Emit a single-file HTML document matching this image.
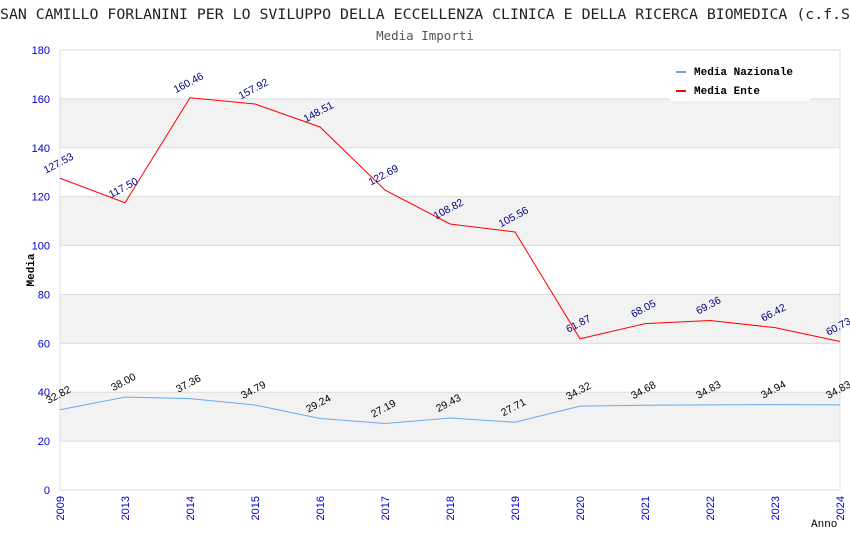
<!DOCTYPE html>
<html><head><meta charset="utf-8"><style>
body{margin:0;background:#fff;}
svg{display:block;}
</style></head><body>
<svg id="chart" width="850" height="550" xmlns="http://www.w3.org/2000/svg">
<text x="0" y="19" font-family="DejaVu Sans Mono, monospace" font-size="14.5" fill="#222" textLength="850" lengthAdjust="spacingAndGlyphs">SAN CAMILLO FORLANINI PER LO SVILUPPO DELLA ECCELLENZA CLINICA E DELLA RICERCA BIOMEDICA (c.f.S</text>
<text x="425" y="40" text-anchor="middle" font-family="DejaVu Sans Mono, monospace" font-size="12.5" fill="#555">Media Importi</text>
<g id="bands"></g>
<g id="grid"></g>
<g id="axes"></g>
<g id="series"></g>
<g id="labels"></g>
<text transform="translate(34,270) rotate(-90)" text-anchor="middle" font-family="Liberation Mono, monospace" font-size="11" font-weight="bold" fill="#000">Media</text>
<text x="811" y="527" font-family="Liberation Mono, monospace" font-size="11" fill="#000">Anno</text>
<g>
<rect x="670" y="58" width="140" height="43" fill="#fff"/>
<line x1="676" y1="72" x2="686" y2="72" stroke="#66aaee" stroke-width="2"/>
<text x="694" y="75" font-family="Liberation Mono, monospace" font-size="11" font-weight="bold" fill="#000">Media Nazionale</text>
<line x1="676" y1="91" x2="686" y2="91" stroke="#ff0000" stroke-width="2"/>
<text x="694" y="94" font-family="Liberation Mono, monospace" font-size="11" font-weight="bold" fill="#000">Media Ente</text>
</g>
</svg>
<script>
const years = ["2009","2013","2014","2015","2016","2017","2018","2019","2020","2021","2022","2023","2024"];
const ente = [127.53,117.50,160.46,157.92,148.51,122.69,108.82,105.56,61.87,68.05,69.36,66.42,60.73];
const nazionale = [32.82,38.00,37.36,34.79,29.24,27.19,29.43,27.71,34.32,34.68,34.83,34.94,34.83];
const yTicks = [0,20,40,60,80,100,120,140,160,180];
const yMax = 180;
const L=60,R=840,T=50,B=490;
const NS="http://www.w3.org/2000/svg";
const x=i=>L+i*(R-L)/(years.length-1);
const y=v=>B-v*(B-T)/yMax;
function mk(tag,attrs,parent,text){const e=document.createElementNS(NS,tag);for(const k in attrs)e.setAttribute(k,attrs[k]);if(text!==undefined)e.textContent=text;document.getElementById(parent).appendChild(e);return e;}
for(let k=0;k<yTicks.length-1;k++){
  if(k%2===1){const b=mk('rect',{x:L,y:y(yTicks[k+1]),width:R-L,height:y(yTicks[k])-y(yTicks[k+1]),fill:'#f2f2f2'},'bands');
  
  }
}
yTicks.forEach(t=>{
  const g=mk('line',{x1:L,x2:R,y1:y(t),y2:y(t),stroke:'#dddddd','stroke-width':1},'grid');
  
  
  const l=mk('text',{x:L-10,y:y(t)+4,'text-anchor':'end','font-family':'Liberation Sans, sans-serif','font-size':11,fill:'#0000cc'},'axes',t);
  
  
});
const ax=mk('line',{x1:L,x2:L,y1:T,y2:B,stroke:'#dddddd'},'axes');


const ax2=mk('line',{x1:R,x2:R,y1:T,y2:B,stroke:'#dddddd'},'axes');


years.forEach((yr,i)=>{
  const t=mk('text',{transform:`translate(${x(i)+4},${B+6}) rotate(-90)`,'text-anchor':'end','font-family':'Liberation Sans, sans-serif','font-size':11,fill:'#0000cc'},'axes',yr);
  
  
});
function series(vals,color,labColor,name){
  const p=mk('polyline',{points:vals.map((v,i)=>x(i)+','+y(v)).join(' '),fill:'none',stroke:color,'stroke-width':1},'series');
  
  
  vals.forEach((v,i)=>{
    const t=mk('text',{transform:`translate(${x(i)},${y(v)-12}) rotate(-28)`,'text-anchor':'middle','font-family':'Liberation Sans, sans-serif','font-size':10.5,fill:labColor},'labels',v.toFixed(2));
    
    
  });
}
series(nazionale,'#66aaee','#000','media-nazionale');
series(ente,'#ff0000','#000080','media-ente');
</script>
</body></html>
